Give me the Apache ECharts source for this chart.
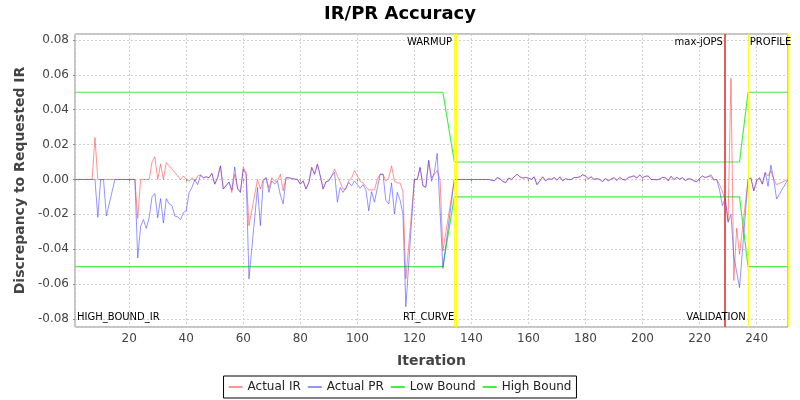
<!DOCTYPE html>
<html><head><meta charset="utf-8">
<script src="https://cdn.jsdelivr.net/npm/echarts@6/dist/echarts.min.js"></script>
<style>html,body{margin:0;padding:0;background:#fff}#c{width:800px;height:400px}</style>
</head><body><div id="c"></div>
<script>
const firstIteration = 1;
const actualIR = [
 0,0,0,0,0,0,0,0.024,0,0,
 0,0,0,0,0,0,0,0,0,0,
 0,0,-0.0223,0,0,0,0,0.010,0.013,0,
 0.0088,0,0.0097,0.0078,0.006,0.004,0.002,0,0.002,0,
 -0.001,0.001,-0.001,0.002,0.0025,0.001,0.0015,0.001,0.0035,-0.0027,
 0.001,0.0078,-0.0055,-0.0035,-0.0015,-0.0075,0.003,-0.005,-0.007,0.007,
 0.004,-0.0265,null,null,0,-0.0055,0,0.001,-0.005,0.001,
 -0.001,-0.001,0.003,-0.0065,0.001,0.001,0.0005,0.0002,0,-0.0027,
 -0.0008,-0.0055,-0.0017,0.0069,0.003,0.0088,0.002,-0.0055,-0.0013,-0.0008,
 0.002,0.006,0.002,-0.0017,-0.0055,-0.0055,-0.0008,0.001,0.005,0.002,
 -0.001,-0.002,-0.004,-0.006,-0.006,-0.006,0,0.003,0.003,-0.001,
 0.001,0.0078,-0.001,-0.002,-0.002,-0.007,-0.057,null,null,0,
 0,0.0069,-0.0036,-0.0045,0.0107,0.001,0.003,0.005,0,-0.041,
 null,null,null,0,0,0,0,0,0,0,
 0,0,0,0,0,0,-0.0004,-0.0008,0.0011,0.0004,
 -0.0011,-0.0019,0.0008,0,0.0015,0.003,0.0015,0.0008,0.0011,0.0008,
 0,0.0015,-0.003,-0.0008,0.0015,-0.0008,0.0004,0,0.0011,-0.0004,
 0.0015,-0.0008,0.0004,0,0,0.0011,0.0011,0.0015,0.0027,0.0019,
 0.0004,0.0015,0,0.0005,0,-0.0013,0.0006,-0.0008,0.0002,0.001,
 -0.0005,0.0012,0,-0.0003,0.0011,0.0015,0.0021,0.0008,0.0026,0.001,
 0.0018,0.002,-0.0001,0,-0.0002,0.0002,0.0012,0.001,-0.0008,0.0018,
 0,0.0012,0.0002,0.001,-0.0006,0.0004,0.0002,-0.0008,-0.0013,0.0006,
 0.002,0.0011,0.0017,0.0015,-0.0002,0,-0.003,-0.007,-0.012,-0.024,
 0.058,-0.058,-0.028,-0.043,null,null,0,0.0005,-0.0065,-0.0008,
 0.001,-0.0027,0.004,0.002,0.005,0,-0.003,null,null,null,
 0
];
const actualPR = [
 0,0,0,0,0,0,0,0,-0.0217,0,
 0,-0.021,null,null,0,0,0,0,0,0,
 0,0,-0.045,-0.027,-0.023,-0.028,-0.022,-0.010,-0.008,-0.022,
 -0.011,-0.025,-0.011,-0.014,-0.015,-0.021,-0.0215,-0.023,-0.019,-0.018,
 -0.0075,-0.0046,0,-0.003,0.0025,0.001,0.0015,0.001,0.0035,-0.0027,
 0.001,0.0078,-0.0055,-0.0035,-0.0015,-0.006,0.0072,-0.0055,-0.0075,0.006,
 0.003,-0.057,null,null,-0.0046,-0.0265,-0.001,0.001,-0.0074,-0.0008,
 -0.0027,-0.001,-0.009,-0.014,0.001,0.001,0.0005,0.0002,0,-0.0027,
 -0.0008,-0.0055,-0.0017,0.0069,0.003,0.0088,0.002,-0.0055,-0.0013,-0.0008,
 0.002,0.004,-0.013,-0.0046,-0.0074,-0.0046,-0.0017,-0.0036,-0.0008,-0.003,
 -0.005,-0.003,-0.006,-0.018,-0.007,-0.013,-0.005,0.003,0.003,-0.012,
 -0.014,-0.002,-0.0198,-0.0074,-0.012,-0.02,-0.073,null,null,0,
 0,0.0069,-0.0036,-0.0045,0.011,-0.001,0.004,0.015,null,-0.051,
 null,null,null,0,0,0,0,0,0,0,
 0,0,0,0,0,0,-0.0004,-0.0008,0.0011,0.0004,
 -0.0011,-0.0019,0.0008,0,0.0015,0.003,0.0015,0.0008,0.0011,0.0008,
 0,0.0015,-0.003,-0.0008,0.0015,-0.0008,0.0004,0,0.0011,-0.0004,
 0.0015,-0.0008,0.0004,0,0,0.0011,0.0011,0.0015,0.0027,0.0019,
 0.0004,0.0015,0,0.0005,0,-0.0013,0.0006,-0.0008,0.0002,0.001,
 -0.0005,0.0012,0,-0.0003,0.0011,0.0015,0.0021,0.0008,0.0026,0.001,
 0.0018,0.002,-0.0001,0,-0.0002,0.0002,0.0012,0.001,-0.0008,0.0018,
 0,0.0012,0.0002,0.001,-0.0006,0.0004,0.0002,-0.0008,-0.0013,0.0006,
 0.002,0.0011,0.0017,0.0027,-0.0002,0,-0.006,-0.015,-0.011,-0.0246,
 -0.02,-0.044,-0.053,-0.062,null,null,0,0.001,-0.0065,-0.0008,
 0.001,-0.0027,0.004,-0.004,0.0082,0,-0.0112,null,null,null,
 0
];
const boundIterations = [1, 130, 134, 234, 237, 251];
const lowBound  = [-0.05, -0.05, -0.01, -0.01, -0.05, -0.05];
const highBound = [ 0.05,  0.05,  0.01,  0.01,  0.05,  0.05];

const markerIterations = [133.9, 134.7, 228.9, 236.9, 251];
const markerKinds = ['phase', 'phase', 'max', 'phase', 'phase'];
const topLabels = ['WARMUP', 'max-jOPS', 'PROFILE'];
const topLabelIterations = [133.9, 228.9, 236.9];
const topLabelSides = ['left', 'left', 'right'];
const bottomLabels = ['HIGH_BOUND_IR', 'RT_CURVE', 'VALIDATION'];
const bottomLabelIterations = [1, 134.7, 236.9];
const bottomLabelSides = ['right', 'left', 'left'];

const Y_MIN = -0.0846, Y_MAX = 0.0834;
const FONT = 'DejaVu Sans';

function pairs(vals) {
  return vals.map((v, k) => [firstIteration + k, v]);
}
function boundPairs(vals) {
  return vals.map((v, k) => [boundIterations[k], v]);
}

const markLineData = markerIterations.map((x, k) => ({
  xAxis: x,
  lineStyle: markerKinds[k] === 'max'
    ? { color: '#e83030', width: 1.6, type: 'solid' }
    : { color: '#ffff20', width: 1.2, type: 'solid' }
}));
const labelPoints = [];
topLabels.forEach((t, k) => labelPoints.push({
  name: t, coord: [topLabelIterations[k], Y_MAX - 0.0047],
  label: { position: topLabelSides[k] }
}));
bottomLabels.forEach((t, k) => labelPoints.push({
  name: t, coord: [bottomLabelIterations[k], Y_MIN + 0.0053],
  label: { position: bottomLabelSides[k] }
}));

const chart = echarts.init(document.getElementById('c'), null, { renderer: 'canvas' });
chart.setOption({
  animation: false,
  backgroundColor: '#fff',
  title: {
    text: 'IR/PR Accuracy', left: 'center', top: 0,
    textStyle: { fontFamily: FONT, fontSize: 18, fontWeight: 'bold', color: '#000' }
  },
  legend: {
    data: ['Actual IR', 'Actual PR', 'Low Bound', 'High Bound'],
    bottom: 2, left: 'center',
    icon: 'rect', itemWidth: 14, itemHeight: 2, itemGap: 7,
    borderColor: '#000', borderWidth: 1, padding: [5, 5],
    textStyle: { fontFamily: FONT, fontSize: 12, color: '#222' }
  },
  grid: {
    left: 75, right: 12, top: 34, bottom: 73,
    show: true, borderColor: '#888', borderWidth: 1, backgroundColor: '#fff'
  },
  xAxis: {
    type: 'value', min: 1, max: 251, splitNumber: 12,
    name: 'Iteration', nameLocation: 'middle', nameGap: 27,
    nameTextStyle: { fontFamily: FONT, fontSize: 14, fontWeight: 'bold', color: '#444' },
    axisLine: { show: false },
    axisTick: { show: true, length: 2, lineStyle: { color: '#888' } },
    axisLabel: { fontFamily: FONT, fontSize: 12, color: '#444', margin: 6,
      showMinLabel: false, showMaxLabel: false },
    splitLine: { show: true, lineStyle: { color: '#cfcfcf', type: [2, 2], width: 1 } }
  },
  yAxis: {
    type: 'value', min: Y_MIN, max: Y_MAX, splitNumber: 8,
    name: 'Discrepancy to Requested IR', nameLocation: 'middle', nameGap: 48,
    nameTextStyle: { fontFamily: FONT, fontSize: 14, fontWeight: 'bold', color: '#444' },
    axisLine: { show: false },
    axisTick: { show: true, length: 2, lineStyle: { color: '#888' } },
    axisLabel: { fontFamily: FONT, fontSize: 12, color: '#444', margin: 6,
      showMinLabel: false, showMaxLabel: false,
      formatter: v => v.toFixed(2) },
    splitLine: { show: true, lineStyle: { color: '#cfcfcf', type: [2, 2], width: 1 } }
  },
  series: [
    { name: 'Actual IR', type: 'line', data: pairs(actualIR), symbol: 'none', showSymbol: false,
      connectNulls: true, color: 'rgba(255,60,60,0.55)',
      lineStyle: { width: 1, color: 'rgba(255,60,60,0.55)' }, z: 3 },
    { name: 'Actual PR', type: 'line', data: pairs(actualPR), symbol: 'none', showSymbol: false,
      connectNulls: true, color: 'rgba(60,60,255,0.55)',
      lineStyle: { width: 1, color: 'rgba(60,60,255,0.55)' }, z: 3 },
    { name: 'Low Bound', type: 'line', data: boundPairs(lowBound), symbol: 'none', showSymbol: false,
      color: '#44ee44', lineStyle: { width: 1.2, color: '#44ee44' }, z: 2 },
    { name: 'High Bound', type: 'line', data: boundPairs(highBound), symbol: 'none', showSymbol: false,
      color: '#44ee44', lineStyle: { width: 1.2, color: '#44ee44' }, z: 2 },
    { name: 'markers', type: 'line', data: [], symbol: 'none', z: 4,
      markLine: { silent: true, symbol: ['none', 'none'], label: { show: false },
        data: markLineData },
      markPoint: { silent: true, symbol: 'circle', symbolSize: 0,
        label: { show: true, formatter: '{b}', distance: 2, color: '#000',
          fontFamily: FONT, fontSize: 10 },
        data: labelPoints }
    }
  ]
});
</script>
</body></html>
